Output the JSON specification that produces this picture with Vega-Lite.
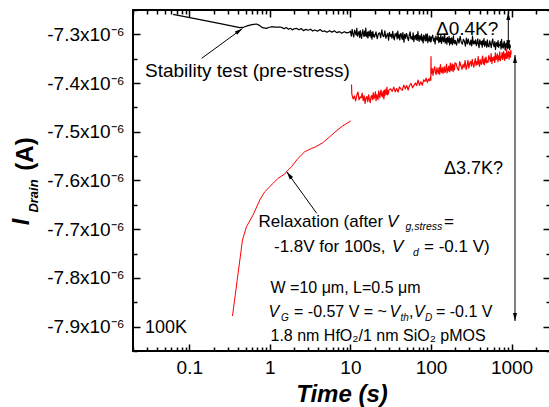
{
"$schema":"https://vega.github.io/schema/vega-lite/v6.json",
"width":417,"height":341,
"autosize":{"type":"none"},
"padding":{"left":133,"top":10,"right":0,"bottom":56},
"background":"white",
"config":{
 "view":{"stroke":"#000","strokeWidth":2},
 "font":"Liberation Sans",
 "axis":{"tickColor":"#000","tickWidth":1.5,"domain":false,"grid":false,"labelFont":"Liberation Sans","labelFontSize":19,"labelColor":"#000","labelFlush":false,"labelOverlap":false,"labelBound":false}
},
"datasets":{
 "stability":[
  {"t":0.063,"I":-7.2588},{"t":0.126,"I":-7.2687},{"t":0.251,"I":-7.2786},{"t":0.423,"I":-7.2863},{"t":0.48,"I":-7.285},{"t":0.536,"I":-7.2822},{"t":0.6,"I":-7.28},{"t":0.682,"I":-7.2787},{"t":0.74,"I":-7.2815},{"t":0.809,"I":-7.2863},{"t":0.907,"I":-7.2876},{"t":0.97,"I":-7.286},{"t":1.047,"I":-7.2843},{"t":1.15,"I":-7.2852},{"t":1.327,"I":-7.2849},
  {"t":1.4,"I":-7.2857},{"t":1.5,"I":-7.2886},{"t":1.6,"I":-7.2859},{"t":1.7,"I":-7.2897},{"t":1.8,"I":-7.2875},{"t":1.9,"I":-7.2908},{"t":2.0,"I":-7.2885},{"t":2.15,"I":-7.2879},{"t":2.3,"I":-7.2907},{"t":2.45,"I":-7.288},{"t":2.6,"I":-7.2923},{"t":2.8,"I":-7.2897},{"t":3.0,"I":-7.2916},{"t":3.2,"I":-7.2894},{"t":3.4,"I":-7.2932},{"t":3.6,"I":-7.291},{"t":3.9,"I":-7.2934},{"t":4.2,"I":-7.2902},{"t":4.5,"I":-7.2941},{"t":4.8,"I":-7.2929},{"t":5.1,"I":-7.2957},{"t":5.5,"I":-7.2925},{"t":5.9,"I":-7.2954},{"t":6.3,"I":-7.2927},{"t":6.8,"I":-7.2965},{"t":7.3,"I":-7.2944},{"t":7.8,"I":-7.2977},{"t":8.4,"I":-7.2946},{"t":9.0,"I":-7.2969},{"t":9.6,"I":-7.2958},
  {"t":10,"I":-7.2935},{"t":10.25,"I":-7.3035},{"t":10.5,"I":-7.2895},{"t":10.75,"I":-7.2995},{"t":11,"I":-7.3055},{"t":11.25,"I":-7.2915},{"t":11.5,"I":-7.2955},{"t":11.75,"I":-7.3015},{"t":12,"I":-7.2875},{"t":12.25,"I":-7.3035},{"t":12.5,"I":-7.2985},{"t":12.75,"I":-7.2945},{"t":13,"I":-7.3065},{"t":13.25,"I":-7.2925},{"t":13.5,"I":-7.3025},{"t":13.75,"I":-7.3085},{"t":14,"I":-7.2965},{"t":14.25,"I":-7.2905},{"t":14.5,"I":-7.3005},{"t":14.75,"I":-7.3045},{"t":15,"I":-7.2933},{"t":15.25,"I":-7.3033},{"t":15.5,"I":-7.2873},{"t":15.75,"I":-7.3013},{"t":16,"I":-7.3053},{"t":16.25,"I":-7.2953},{"t":16.5,"I":-7.3073},{"t":16.75,"I":-7.2973},{"t":17,"I":-7.2933},{"t":17.25,"I":-7.3033},{"t":17.5,"I":-7.302},{"t":17.75,"I":-7.292},{"t":18,"I":-7.306},{"t":18.25,"I":-7.296},{"t":18.5,"I":-7.31},{"t":18.75,"I":-7.298},{"t":19,"I":-7.294},{"t":19.25,"I":-7.304},{"t":19.5,"I":-7.3},{"t":19.75,"I":-7.306},
  {"t":20,"I":-7.3048},{"t":20.75,"I":-7.2948},{"t":21.5,"I":-7.3088},{"t":22.25,"I":-7.2988},{"t":23,"I":-7.2968},{"t":23.75,"I":-7.3068},{"t":24.5,"I":-7.2908},{"t":25.25,"I":-7.3028},{"t":26,"I":-7.3048},{"t":26.75,"I":-7.2928},{"t":27.5,"I":-7.308},{"t":28.25,"I":-7.302},{"t":29,"I":-7.298},{"t":29.75,"I":-7.312},{"t":30.5,"I":-7.296},{"t":31.25,"I":-7.304},{"t":32,"I":-7.3},{"t":32.75,"I":-7.308},{"t":33.5,"I":-7.294},{"t":34.25,"I":-7.306},{"t":35,"I":-7.3112},{"t":35.75,"I":-7.2992},{"t":36.5,"I":-7.3032},{"t":37.25,"I":-7.2972},{"t":38,"I":-7.3092},{"t":38.75,"I":-7.2932},{"t":39.5,"I":-7.3072},{"t":40.25,"I":-7.3012},{"t":41,"I":-7.3112},{"t":41.75,"I":-7.2992},{"t":42.5,"I":-7.2982},{"t":43.25,"I":-7.3062},{"t":44,"I":-7.3102},{"t":44.75,"I":-7.2962},{"t":45.5,"I":-7.3082},{"t":46.25,"I":-7.3162},{"t":47,"I":-7.3002},{"t":47.75,"I":-7.3022},{"t":48.5,"I":-7.3082},{"t":49.25,"I":-7.2982},
  {"t":50,"I":-7.299},{"t":51.25,"I":-7.307},{"t":52.5,"I":-7.313},{"t":53.75,"I":-7.301},{"t":55,"I":-7.295},{"t":56.25,"I":-7.309},{"t":57.5,"I":-7.305},{"t":58.75,"I":-7.311},{"t":60,"I":-7.297},{"t":61.25,"I":-7.315},{"t":62.5,"I":-7.3043},{"t":63.75,"I":-7.3023},{"t":65,"I":-7.3103},{"t":66.25,"I":-7.3003},{"t":67.5,"I":-7.3123},{"t":68.75,"I":-7.2943},{"t":70,"I":-7.3083},{"t":71.25,"I":-7.3143},{"t":72.5,"I":-7.3023},{"t":73.75,"I":-7.3063},{"t":75,"I":-7.3116},{"t":76.25,"I":-7.2996},{"t":77.5,"I":-7.3136},{"t":78.75,"I":-7.3056},{"t":80,"I":-7.3176},{"t":81.25,"I":-7.3016},{"t":82.5,"I":-7.3036},{"t":83.75,"I":-7.3096},{"t":85,"I":-7.3136},{"t":86.25,"I":-7.2996},{"t":87.5,"I":-7.313},{"t":88.75,"I":-7.307},{"t":90,"I":-7.299},{"t":91.25,"I":-7.317},{"t":92.5,"I":-7.309},{"t":93.75,"I":-7.313},{"t":95,"I":-7.303},{"t":96.25,"I":-7.311},{"t":97.5,"I":-7.315},{"t":98.75,"I":-7.305},
  {"t":100,"I":-7.3157},{"t":102.5,"I":-7.3057},{"t":105,"I":-7.3017},{"t":107.5,"I":-7.3137},{"t":110,"I":-7.3077},{"t":112.5,"I":-7.3197},{"t":115,"I":-7.3037},{"t":117.5,"I":-7.3097},{"t":120,"I":-7.3117},{"t":122.5,"I":-7.3017},{"t":125,"I":-7.3168},{"t":127.5,"I":-7.3068},{"t":130,"I":-7.3148},{"t":132.5,"I":-7.3008},{"t":135,"I":-7.3188},{"t":137.5,"I":-7.3088},{"t":140,"I":-7.3048},{"t":142.5,"I":-7.3148},{"t":145,"I":-7.3128},{"t":147.5,"I":-7.2988},{"t":150,"I":-7.318},{"t":152.5,"I":-7.312},{"t":155,"I":-7.308},{"t":157.5,"I":-7.32},{"t":160,"I":-7.306},{"t":162.5,"I":-7.314},{"t":165,"I":-7.316},{"t":167.5,"I":-7.304},{"t":170,"I":-7.322},{"t":172.5,"I":-7.308},{"t":175,"I":-7.3112},{"t":177.5,"I":-7.3192},{"t":180,"I":-7.3072},{"t":182.5,"I":-7.3152},{"t":185,"I":-7.3212},{"t":187.5,"I":-7.3092},{"t":190,"I":-7.3032},{"t":192.5,"I":-7.3172},{"t":195,"I":-7.3132},{"t":197.5,"I":-7.3192},
  {"t":200,"I":-7.3122},{"t":207.5,"I":-7.3222},{"t":215,"I":-7.3082},{"t":222.5,"I":-7.3182},{"t":230,"I":-7.3042},{"t":237.5,"I":-7.3162},{"t":245,"I":-7.3202},{"t":252.5,"I":-7.3102},{"t":260,"I":-7.3142},{"t":267.5,"I":-7.3242},{"t":275,"I":-7.3078},{"t":282.5,"I":-7.3198},{"t":290,"I":-7.3098},{"t":297.5,"I":-7.3178},{"t":305,"I":-7.3218},{"t":312.5,"I":-7.3118},{"t":320,"I":-7.3238},{"t":327.5,"I":-7.3038},{"t":335,"I":-7.3198},{"t":342.5,"I":-7.3138},{"t":350,"I":-7.3192},{"t":357.5,"I":-7.3112},{"t":365,"I":-7.3232},{"t":372.5,"I":-7.3172},{"t":380,"I":-7.3092},{"t":387.5,"I":-7.3212},{"t":395,"I":-7.3272},{"t":402.5,"I":-7.3112},{"t":410,"I":-7.3152},{"t":417.5,"I":-7.3212},{"t":425,"I":-7.3145},{"t":432.5,"I":-7.3265},{"t":440,"I":-7.3125},{"t":447.5,"I":-7.3205},{"t":455,"I":-7.3085},{"t":462.5,"I":-7.3245},{"t":470,"I":-7.3185},{"t":477.5,"I":-7.3145},{"t":485,"I":-7.3225},{"t":492.5,"I":-7.3265},
  {"t":500,"I":-7.3115},{"t":512,"I":-7.3235},{"t":524,"I":-7.3255},{"t":536,"I":-7.3135},{"t":548,"I":-7.3195},{"t":560,"I":-7.3275},{"t":572,"I":-7.3155},{"t":584,"I":-7.3095},{"t":596,"I":-7.3215},{"t":608,"I":-7.3255},{"t":620,"I":-7.3148},{"t":632,"I":-7.3308},{"t":644,"I":-7.3188},{"t":656,"I":-7.3168},{"t":668,"I":-7.3248},{"t":680,"I":-7.3128},{"t":692,"I":-7.3268},{"t":704,"I":-7.3208},{"t":716,"I":-7.3228},{"t":728,"I":-7.3148},{"t":740,"I":-7.3302},{"t":752,"I":-7.3102},{"t":764,"I":-7.3262},{"t":776,"I":-7.3202},{"t":788,"I":-7.3282},{"t":800,"I":-7.3182},{"t":812,"I":-7.3142},{"t":824,"I":-7.3262},{"t":836,"I":-7.3322},{"t":848,"I":-7.3202},{"t":860,"I":-7.3175},{"t":872,"I":-7.3255},{"t":884,"I":-7.3295},{"t":896,"I":-7.3135},{"t":908,"I":-7.3275},{"t":920,"I":-7.3235},{"t":932,"I":-7.3195},{"t":944,"I":-7.3315},{"t":956,"I":-7.3215},{"t":968,"I":-7.3275}
 ],
 "relaxA":[
  {"t":0.3434,"I":-7.8782},{"t":0.457,"I":-7.7222},{"t":0.5124,"I":-7.6949},{"t":0.6187,"I":-7.6709},{"t":0.7489,"I":-7.6401},{"t":0.8643,"I":-7.623},{"t":0.9972,"I":-7.6128},{"t":1.0958,"I":-7.6058},{"t":1.2643,"I":-7.5955},{"t":1.531,"I":-7.5867},{"t":1.607,"I":-7.582},{"t":1.8539,"I":-7.5717},{"t":2.2387,"I":-7.5545},{"t":2.7116,"I":-7.5409},{"t":3.2836,"I":-7.5343},{"t":3.7129,"I":-7.5306},{"t":4.5,"I":-7.523},{"t":5.54,"I":-7.5101},{"t":6.6,"I":-7.499},{"t":8.0,"I":-7.488},{"t":10.1,"I":-7.4778}
 ],
 "relaxB":[
  {"t":10.3,"I":-7.403},
  {"t":10.4,"I":-7.4225},{"t":10.8,"I":-7.4325},{"t":11.2,"I":-7.4265},{"t":11.6,"I":-7.4365},{"t":12.0,"I":-7.4245},{"t":12.4,"I":-7.4185},{"t":12.8,"I":-7.4345},{"t":13.2,"I":-7.4285},{"t":13.6,"I":-7.4305},{"t":14.0,"I":-7.4205},{"t":14.4,"I":-7.436},{"t":14.8,"I":-7.426},{"t":15.2,"I":-7.442},{"t":15.6,"I":-7.43},{"t":16.0,"I":-7.428},{"t":16.4,"I":-7.438},{"t":16.8,"I":-7.424},{"t":17.2,"I":-7.434},{"t":17.6,"I":-7.44},{"t":18.0,"I":-7.428},{"t":18.4,"I":-7.426},{"t":18.8,"I":-7.434},{"t":19.2,"I":-7.42},{"t":19.6,"I":-7.432},{"t":20.0,"I":-7.428},{"t":20.4,"I":-7.418},{"t":20.8,"I":-7.436},{"t":21.2,"I":-7.424},{"t":21.6,"I":-7.43},{"t":22.0,"I":-7.434},{"t":22.4,"I":-7.4165},{"t":22.8,"I":-7.4245},{"t":23.2,"I":-7.4305},{"t":23.6,"I":-7.4185},{"t":24.0,"I":-7.4145},{"t":24.4,"I":-7.4265},{"t":24.8,"I":-7.4205},{"t":25.2,"I":-7.4285},{"t":25.6,"I":-7.4165},{"t":26.0,"I":-7.4325},{"t":26.4,"I":-7.4145},{"t":26.8,"I":-7.4265},{"t":27.2,"I":-7.4185},{"t":27.6,"I":-7.4125},{"t":28.0,"I":-7.4225},{"t":28.4,"I":-7.4085},{"t":28.8,"I":-7.4245},{"t":29.2,"I":-7.4165},{"t":29.6,"I":-7.4225},{"t":30.0,"I":-7.4145},
  {"t":31.5,"I":-7.4117},{"t":33,"I":-7.417},{"t":34.5,"I":-7.4084},{"t":36,"I":-7.4178},{"t":37.5,"I":-7.4112},{"t":39,"I":-7.4186},{"t":40.5,"I":-7.408},{"t":42,"I":-7.4115},{"t":44,"I":-7.4148},{"t":46,"I":-7.4042},{"t":48,"I":-7.4117},{"t":50,"I":-7.4051},{"t":52,"I":-7.4143},{"t":54,"I":-7.4055},{"t":56.5,"I":-7.4006},{"t":59,"I":-7.4097},{"t":61.5,"I":-7.4048},{"t":64,"I":-7.3999},{"t":66.5,"I":-7.405},{"t":69,"I":-7.394},{"t":72,"I":-7.4045},{"t":75,"I":-7.3975},{"t":78,"I":-7.4045},{"t":81,"I":-7.3936},{"t":84,"I":-7.3967},{"t":87,"I":-7.3898},{"t":90,"I":-7.3987},{"t":93,"I":-7.392},{"t":96,"I":-7.3953},{"t":98,"I":-7.3887},
  {"t":99.5,"I":-7.394},{"t":100,"I":-7.3459},{"t":100.3,"I":-7.377},
  {"t":101,"I":-7.3805},{"t":103.5,"I":-7.3705},{"t":106,"I":-7.3845},{"t":108.5,"I":-7.3725},{"t":111,"I":-7.3665},{"t":113.5,"I":-7.3785},{"t":116,"I":-7.3825},{"t":118.5,"I":-7.3685},{"t":121,"I":-7.3765},{"t":123.5,"I":-7.3805},{"t":126,"I":-7.368},{"t":128.5,"I":-7.382},{"t":131,"I":-7.362},{"t":133.5,"I":-7.376},{"t":136,"I":-7.378},{"t":138.5,"I":-7.368},{"t":141,"I":-7.38},{"t":143.5,"I":-7.372},{"t":146,"I":-7.366},{"t":148.5,"I":-7.378},{"t":151,"I":-7.3772},{"t":153.5,"I":-7.3672},{"t":156,"I":-7.3612},{"t":158.5,"I":-7.3792},{"t":161,"I":-7.3692},{"t":163.5,"I":-7.3752},{"t":166,"I":-7.3652},{"t":168.5,"I":-7.3732},{"t":171,"I":-7.3772},{"t":173.5,"I":-7.3592},{"t":176,"I":-7.3645},{"t":178.5,"I":-7.3745},{"t":181,"I":-7.3685},{"t":183.5,"I":-7.3605},{"t":186,"I":-7.3725},{"t":188.5,"I":-7.3765},{"t":191,"I":-7.3625},{"t":193.5,"I":-7.3665},{"t":196,"I":-7.3725},{"t":198.5,"I":-7.3585},
  {"t":205,"I":-7.3599},{"t":212.5,"I":-7.3699},{"t":220,"I":-7.3739},{"t":227.5,"I":-7.3559},{"t":235,"I":-7.3639},{"t":242.5,"I":-7.3719},{"t":250,"I":-7.3619},{"t":257.5,"I":-7.3679},{"t":265,"I":-7.3539},{"t":272.5,"I":-7.3719},{"t":280,"I":-7.3655},{"t":287.5,"I":-7.3535},{"t":295,"I":-7.3695},{"t":302.5,"I":-7.3595},{"t":310,"I":-7.3555},{"t":317.5,"I":-7.3655},{"t":325,"I":-7.3515},{"t":332.5,"I":-7.3615},{"t":340,"I":-7.3675},{"t":347.5,"I":-7.3575},{"t":355,"I":-7.3498},{"t":362.5,"I":-7.3638},{"t":370,"I":-7.3558},{"t":377.5,"I":-7.3618},{"t":385,"I":-7.3458},{"t":392.5,"I":-7.3598},{"t":400,"I":-7.3658},{"t":407.5,"I":-7.3518},{"t":415,"I":-7.3578},{"t":422.5,"I":-7.3618},{"t":430,"I":-7.3505},{"t":437.5,"I":-7.3445},{"t":445,"I":-7.3605},{"t":452.5,"I":-7.3525},{"t":460,"I":-7.3625},{"t":467.5,"I":-7.3485},{"t":475,"I":-7.3565},{"t":482.5,"I":-7.3465},{"t":490,"I":-7.3585},{"t":497.5,"I":-7.3545},
  {"t":510,"I":-7.3575},{"t":522,"I":-7.3435},{"t":534,"I":-7.3495},{"t":546,"I":-7.3555},{"t":558,"I":-7.3395},{"t":570,"I":-7.3595},{"t":582,"I":-7.3475},{"t":594,"I":-7.3535},{"t":606,"I":-7.3455},{"t":618,"I":-7.3575},{"t":630,"I":-7.338},{"t":642,"I":-7.352},{"t":654,"I":-7.348},{"t":666,"I":-7.34},{"t":678,"I":-7.356},{"t":690,"I":-7.344},{"t":702,"I":-7.352},{"t":714,"I":-7.336},{"t":726,"I":-7.354},{"t":738,"I":-7.346},{"t":750,"I":-7.3475},{"t":762,"I":-7.3375},{"t":774,"I":-7.3515},{"t":786,"I":-7.3415},{"t":798,"I":-7.3355},{"t":810,"I":-7.3495},{"t":822,"I":-7.3535},{"t":834,"I":-7.3395},{"t":846,"I":-7.3435},{"t":858,"I":-7.3495},{"t":870,"I":-7.331},{"t":882,"I":-7.349},{"t":894,"I":-7.339},{"t":906,"I":-7.345},{"t":918,"I":-7.335},{"t":930,"I":-7.351},{"t":942,"I":-7.337},{"t":954,"I":-7.343},{"t":966,"I":-7.347},{"t":978,"I":-7.333},{"t":990,"I":-7.341}
 ],
 "arrows":[
  {"t":0.1425,"I":-7.3492,"t2":0.4572,"I2":-7.288},
  {"t":3.813,"I":-7.6673,"t2":1.618,"I2":-7.5819},
  {"t":911,"I":-7.2541,"t2":911,"I2":-7.3286},
  {"t":1103,"I":-7.3424,"t2":1103,"I2":-7.8884}
 ],
 "headsUp":[{"t":911,"I":-7.2541},{"t":1103,"I":-7.3424}],
 "headsDown":[{"t":911,"I":-7.3286},{"t":1103,"I":-7.8884}],
 "headStab":[{"t":0.4572,"I":-7.288}],
 "headRelax":[{"t":1.618,"I":-7.5819}],
 "text19":[{"label":"Stability test (pre-stress)","t":0.028184,"I":-7.38754},{"label":"Δ0.4K?","t":115.35,"I":-7.30132}],
 "text18":[{"label":"100K","t":0.028184,"I":-7.91305},{"label":"Δ3.7K?","t":145.0,"I":-7.58564}],
 "text17":[{"label":"Relaxation (after","t":0.72258,"I":-7.69443},{"label":"=","t":145.0,"I":-7.69443},{"label":"-1.8V for 100s,","t":1.1251,"I":-7.7478},{"label":"= -0.1 V)","t":81.88,"I":-7.7478}],
 "ital17":[{"label":"V","t":28.44,"I":-7.69443},{"label":"V","t":32.81,"I":-7.7478}],
 "sub17":[{"label":"g,stress","t":48.25,"I":-7.70162},{"label":"d","t":59.79,"I":-7.75499}],
 "text16":[{"label":"W =10 μm, L=0.5 μm","t":1.0181,"I":-7.83095},{"label":"= -0.57 V = ~","t":1.9933,"I":-7.88022},{"label":",","t":53.33,"I":-7.88022},{"label":"= -0.1 V","t":115.35,"I":-7.88022},{"label":"1.8 nm HfO₂/1 nm SiO₂ pMOS","t":1.0181,"I":-7.92948}],
 "ital16":[{"label":"V","t":0.96148,"I":-7.88022},{"label":"V","t":30.54,"I":-7.88022},{"label":"V","t":61.51,"I":-7.88022}],
 "sub16":[{"label":"G","t":1.3744,"I":-7.8874},{"label":"th","t":41.82,"I":-7.8874},{"label":"D","t":84.25,"I":-7.8874}],
 "titleI":[{"label":"I","t":0.0010236,"I":-7.6852}],
 "titleDrain":[{"label":"Drain","t":0.0013051,"I":-7.63182}],
 "titleA":[{"label":"(A)","t":0.0011475,"I":-7.5456}]
},
"encoding":{
 "x":{"field":"t","type":"quantitative","scale":{"type":"log","domain":[0.02,3000]},"axis":null},
 "y":{"field":"I","type":"quantitative","scale":{"domain":[-7.95,-7.25],"zero":false},"axis":null}
},
"layer":[
 {"data":{"name":"stability"},"mark":{"type":"line","color":"#000","strokeWidth":1.2,"strokeJoin":"round"},
  "encoding":{
   "x":{"field":"t","type":"quantitative","scale":{"type":"log","domain":[0.02,3000]},
    "axis":{"orient":"bottom","values":[0.02,0.03,0.04,0.05,0.06,0.07,0.08,0.09,0.1,0.2,0.3,0.4,0.5,0.6,0.7,0.8,0.9,1,2,3,4,5,6,7,8,9,10,20,30,40,50,60,70,80,90,100,200,300,400,500,600,700,800,900,1000,2000,3000],
     "labelExpr":"datum.value==0.1?'0.1':datum.value==1?'1':datum.value==10?'10':datum.value==100?'100':datum.value==1000?'1000':''",
     "tickSize":{"condition":{"test":"indexof([0.1,1,10,100,1000],datum.value)>=0","value":-7},"value":-4},
     "labelPadding":14,
     "title":"Time (s)","titleFont":"Liberation Sans","titleFontSize":24,"titleFontWeight":"bold","titleFontStyle":"italic","titleColor":"#000","titlePadding":2}},
   "y":{"field":"I","type":"quantitative","scale":{"domain":[-7.95,-7.25],"zero":false},
    "axis":{"orient":"left","values":[-7.95,-7.9,-7.85,-7.8,-7.75,-7.7,-7.65,-7.6,-7.55,-7.5,-7.45,-7.4,-7.35,-7.3,-7.25],
     "labelExpr":"abs(round(datum.value*10)-datum.value*10)<0.01?'-'+format(-datum.value,'.1f')+'x10⁻⁶':''",
     "tickSize":{"condition":{"test":"abs(round(datum.value*10)-datum.value*10)<0.01","value":-7},"value":-4},
     "labelPadding":16,"title":null}}
  }},
 {"data":{"name":"relaxA"},"mark":{"type":"line","color":"#ff0000","strokeWidth":1,"strokeJoin":"round"}},
 {"data":{"name":"relaxB"},"mark":{"type":"line","color":"#ff0000","strokeWidth":1.2,"strokeJoin":"round"}},
 {"data":{"name":"arrows"},"mark":{"type":"rule","color":"#000","strokeWidth":1},
  "encoding":{
   "x":{"field":"t","type":"quantitative","scale":{"type":"log","domain":[0.02,3000]},
    "axis":{"orient":"top","values":[0.02,0.03,0.04,0.05,0.06,0.07,0.08,0.09,0.1,0.2,0.3,0.4,0.5,0.6,0.7,0.8,0.9,1,2,3,4,5,6,7,8,9,10,20,30,40,50,60,70,80,90,100,200,300,400,500,600,700,800,900,1000,2000,3000],
     "labels":false,"tickSize":{"condition":{"test":"indexof([0.1,1,10,100,1000],datum.value)>=0","value":-7},"value":-4},"title":null}},
   "y":{"field":"I","type":"quantitative","scale":{"domain":[-7.95,-7.25],"zero":false},
    "axis":{"orient":"right","values":[-7.95,-7.9,-7.85,-7.8,-7.75,-7.7,-7.65,-7.6,-7.55,-7.5,-7.45,-7.4,-7.35,-7.3,-7.25],
     "labels":false,"tickSize":{"condition":{"test":"abs(round(datum.value*10)-datum.value*10)<0.01","value":-7},"value":-4},"title":null}},
   "x2":{"field":"t2"},
   "y2":{"field":"I2"}
  }},
 {"data":{"name":"headsUp"},"mark":{"type":"point","shape":"M0,0L0.45,1.8L-0.45,1.8Z","filled":true,"color":"#000","opacity":1,"size":80,"strokeWidth":0}},
 {"data":{"name":"headsDown"},"mark":{"type":"point","shape":"M0,0L0.45,-1.8L-0.45,-1.8Z","filled":true,"color":"#000","opacity":1,"size":80,"strokeWidth":0}},
 {"data":{"name":"headStab"},"mark":{"type":"point","shape":"M0,0L0.45,1.8L-0.45,1.8Z","angle":54,"filled":true,"color":"#000","opacity":1,"size":80,"strokeWidth":0}},
 {"data":{"name":"headRelax"},"mark":{"type":"point","shape":"M0,0L0.45,1.8L-0.45,1.8Z","angle":324,"filled":true,"color":"#000","opacity":1,"size":80,"strokeWidth":0}},
 {"data":{"name":"text19"},"mark":{"type":"text","align":"left","baseline":"alphabetic","font":"Liberation Sans","fontSize":19,"color":"#000"},"encoding":{"text":{"field":"label"}}},
 {"data":{"name":"text18"},"mark":{"type":"text","align":"left","baseline":"alphabetic","font":"Liberation Sans","fontSize":18,"color":"#000"},"encoding":{"text":{"field":"label"}}},
 {"data":{"name":"text17"},"mark":{"type":"text","align":"left","baseline":"alphabetic","font":"Liberation Sans","fontSize":17,"color":"#000"},"encoding":{"text":{"field":"label"}}},
 {"data":{"name":"ital17"},"mark":{"type":"text","align":"left","baseline":"alphabetic","font":"Liberation Sans","fontSize":17,"fontStyle":"italic","color":"#000"},"encoding":{"text":{"field":"label"}}},
 {"data":{"name":"sub17"},"mark":{"type":"text","align":"left","baseline":"alphabetic","font":"Liberation Sans","fontSize":10.5,"fontStyle":"italic","color":"#000"},"encoding":{"text":{"field":"label"}}},
 {"data":{"name":"text16"},"mark":{"type":"text","align":"left","baseline":"alphabetic","font":"Liberation Sans","fontSize":16,"color":"#000"},"encoding":{"text":{"field":"label"}}},
 {"data":{"name":"ital16"},"mark":{"type":"text","align":"left","baseline":"alphabetic","font":"Liberation Sans","fontSize":16,"fontStyle":"italic","color":"#000"},"encoding":{"text":{"field":"label"}}},
 {"data":{"name":"sub16"},"mark":{"type":"text","align":"left","baseline":"alphabetic","font":"Liberation Sans","fontSize":10,"fontStyle":"italic","color":"#000"},"encoding":{"text":{"field":"label"}}},
 {"data":{"name":"titleI"},"mark":{"type":"text","align":"center","baseline":"alphabetic","angle":270,"font":"Liberation Sans","fontSize":24,"fontWeight":"bold","fontStyle":"italic","color":"#000"},"encoding":{"text":{"field":"label"}}},
 {"data":{"name":"titleDrain"},"mark":{"type":"text","align":"center","baseline":"alphabetic","angle":270,"font":"Liberation Sans","fontSize":13,"fontWeight":"bold","fontStyle":"italic","color":"#000"},"encoding":{"text":{"field":"label"}}},
 {"data":{"name":"titleA"},"mark":{"type":"text","align":"center","baseline":"alphabetic","angle":270,"font":"Liberation Sans","fontSize":24,"fontWeight":"bold","color":"#000"},"encoding":{"text":{"field":"label"}}}
],
"resolve":{"axis":{"x":"independent","y":"independent"}}
}
